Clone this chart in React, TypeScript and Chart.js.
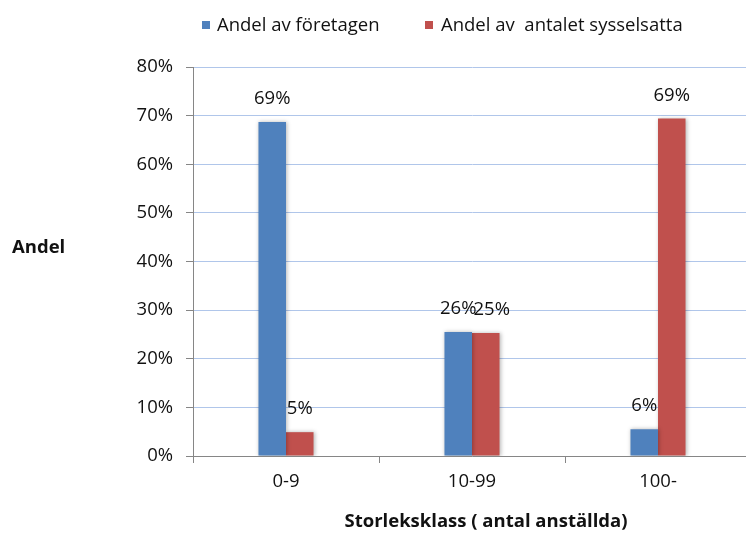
import React, { useEffect, useRef } from "react";
import { Chart, registerables } from "chart.js";

Chart.register(...registerables);

const categories = ["0-9", "10-99", "100-"];
const seriesNames = ["Andel av företagen", "Andel av  antalet sysselsatta"];
const foretagen = [68.7, 25.5, 5.5];
const sysselsatta = [4.9, 25.3, 69.4];
const yTicks = [0, 10, 20, 30, 40, 50, 60, 70, 80];
const yTitle = "Andel";
const xTitle = "Storleksklass ( antal anställda)";

const BLUE = "#4F81BD";
const RED = "#C0504D";
const AXIS = "#868686";
const GRID = "#B0C6EA";
const TEXT = "#111111";
const FONT = "'Open Sans', 'Noto Sans', sans-serif";
const FS = 18.5;

const W = 760;
const H = 536;

export default function App() {
  const ref = useRef<HTMLCanvasElement | null>(null);

  useEffect(() => {
    const canvas = ref.current;
    if (!canvas) return;

    const shadowPlugin = {
      id: "barShadow",
      beforeDatasetsDraw(chart: any) {
        const ctx = chart.ctx;
        ctx.save();
        ctx.shadowColor = "rgba(0,0,0,0.28)";
        ctx.shadowBlur = 4;
        ctx.shadowOffsetX = 1;
        ctx.shadowOffsetY = 0;
      },
      afterDatasetsDraw(chart: any) {
        chart.ctx.restore();
      },
    };

    const labelOffsets: Record<string, number> = { "1-1": 6 };

    const labelsPlugin = {
      id: "valueLabels",
      afterDraw(chart: any) {
        const ctx = chart.ctx;
        ctx.save();
        ctx.font = `${FS}px ${FONT}`;
        ctx.fillStyle = TEXT;
        ctx.textAlign = "center";
        ctx.textBaseline = "alphabetic";
        chart.data.datasets.forEach((ds: any, di: number) => {
          const meta = chart.getDatasetMeta(di);
          meta.data.forEach((el: any, i: number) => {
            const v = ds.data[i];
            const dx = labelOffsets[`${di}-${i}`] || 0;
            ctx.fillText(`${Math.round(v)}%`, el.x + dx, el.y - 18);
          });
        });

        // legend
        const colors = [BLUE, RED];
        const boxX = [202, 425];
        const textX = [217, 441];
        seriesNames.forEach((name, i) => {
          ctx.fillStyle = colors[i];
          ctx.fillRect(boxX[i], 21, 8, 8);
          ctx.fillStyle = TEXT;
          ctx.textAlign = "left";
          ctx.fillText(name, textX[i], 31);
        });

        // axis titles
        ctx.font = `bold 18.5px ${FONT}`;
        ctx.textAlign = "left";
        ctx.fillText(yTitle, 12, 253);
        ctx.textAlign = "center";
        ctx.fillText(xTitle, 486, 527);
        ctx.restore();
      },
    };

    const chart = new Chart(canvas, {
      type: "bar",
      data: {
        labels: categories,
        datasets: [
          {
            label: seriesNames[0],
            data: foretagen,
            backgroundColor: BLUE,
            borderWidth: 0,
            categoryPercentage: 0.296,
            barPercentage: 1,
          },
          {
            label: seriesNames[1],
            data: sysselsatta,
            backgroundColor: RED,
            borderWidth: 0,
            categoryPercentage: 0.296,
            barPercentage: 1,
          },
        ],
      },
      options: {
        responsive: false,
        animation: false,
        devicePixelRatio: 1,
        layout: { padding: { top: 67, right: W - 751, bottom: 0, left: 0 } },
        plugins: {
          legend: { display: false },
          title: { display: false },
          tooltip: { enabled: false },
        },
        scales: {
          x: {
            offset: true,
            grid: {
              offset: true,
              drawOnChartArea: false,
              drawTicks: true,
              tickLength: 7,
              tickColor: AXIS,
              color: AXIS,
            },
            border: { display: true, color: AXIS, width: 1 },
            ticks: {
              color: TEXT,
              font: { family: FONT, size: FS },
              padding: 8,
              maxRotation: 0,
            },
            afterFit(scale: any) {
              scale.height = H - 456;
            },
          },
          y: {
            min: 0,
            max: 80,
            afterBuildTicks(scale: any) {
              scale.ticks = yTicks.map((v) => ({ value: v }));
            },
            grid: {
              color: GRID,
              lineWidth: 1,
              drawTicks: true,
              tickLength: 7,
              tickColor: AXIS,
            },
            border: { display: true, color: AXIS, width: 1 },
            ticks: {
              color: TEXT,
              font: { family: FONT, size: FS },
              padding: 13,
              callback: (v: any) => `${v}%`,
            },
            afterFit(scale: any) {
              scale.width = 193;
            },
          },
        },
      },
      plugins: [shadowPlugin, labelsPlugin],
    });

    return () => chart.destroy();
  }, []);

  return (
    <div
      style={{
        position: "fixed",
        left: 0,
        top: 0,
        width: 746,
        height: 536,
        overflow: "hidden",
        background: "#fff",
      }}
    >
      <canvas ref={ref} width={W} height={H} style={{ width: W, height: H, display: "block" }} />
    </div>
  );
}
